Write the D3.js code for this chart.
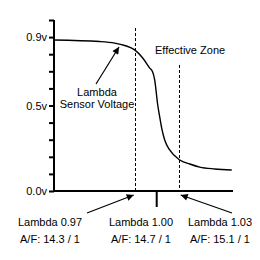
<!DOCTYPE html>
<html><head><meta charset="utf-8">
<script src="https://cdn.jsdelivr.net/npm/d3@7"></script>
<style>
html,body{margin:0;padding:0;background:#fff;}
text{font-family:Arial,"Liberation Sans",sans-serif;font-size:11px;fill:#000;}
</style></head>
<body>
<svg id="c" width="260" height="260"></svg>
<script>
// Data
const lambdaVals = [0.8595,0.9223,0.9427,0.9564,0.970,0.9809,0.9905,0.9945,0.9973,1.0014,1.0041,1.0068,1.0109,1.0177,1.0314,1.045,1.0586,1.0791,1.1023];
const voltage    = [0.883,0.874,0.865,0.851,0.825,0.778,0.719,0.696,0.649,0.503,0.433,0.368,0.298,0.240,0.181,0.158,0.140,0.129,0.123];
const yTickValues = [0,0.1,0.2,0.3,0.4,0.5,0.6,0.7,0.8,0.9,1.0];
const yLabeled = {"0.0":"0.0v","0.5":"0.5v","0.9":"0.9v"};
const markerLambdas = [0.97, 1.03];
const markerTops = [0.953, 0.737];
const centerLambda = [1.00];
const lambdaLabels = ["Lambda 0.97","Lambda 1.00","Lambda 1.03"];
const afLabels = ["A/F: 14.3 / 1","A/F: 14.7 / 1","A/F: 15.1 / 1"];

const svg = d3.select("#c");
const x = d3.scaleLinear().domain([0.86,1.104]).range([54,233]);
const y = d3.scaleLinear().domain([0,1]).range([191,20]);

// markers
const defs = svg.append("defs");
defs.append("marker").attr("id","ah").attr("viewBox","0 0 10 10").attr("refX",10).attr("refY",5)
  .attr("markerWidth",9).attr("markerHeight",7).attr("markerUnits","userSpaceOnUse").attr("orient","auto")
  .append("path").attr("d","M0,0L10,5L0,10z").attr("fill","#000");

// dashed lines
svg.selectAll(".dash").data(markerLambdas).enter().append("line")
  .attr("x1",d=>Math.round(x(d))+0.5).attr("x2",d=>Math.round(x(d))+0.5)
  .attr("y1",(d,i)=>y(markerTops[i])).attr("y2",y(0))
  .attr("stroke","#000").attr("stroke-width",1).attr("stroke-dasharray","3,2");

// curve
const line = d3.line().x((d,i)=>x(lambdaVals[i])).y(d=>y(d)).curve(d3.curveMonotoneX);
svg.append("path").datum(voltage).attr("d",line).attr("fill","none").attr("stroke","#000").attr("stroke-width",1.4);

// y axis
const yAxis = d3.axisLeft(y).tickValues(yTickValues).tickSize(5).tickPadding(2)
  .tickFormat(d=>yLabeled[d.toFixed(1)]||"");
const ga = svg.append("g").attr("transform","translate(54,0)").call(yAxis);
ga.select(".domain").attr("stroke-width",2).attr("d",`M0,${y(1)}V${y(0)+1}`);
ga.selectAll(".tick line").attr("stroke-width",2);
ga.selectAll("text").style("font-size","11px").attr("font-family",null);

// x axis
svg.append("line").attr("x1",x(0.86)-1).attr("x2",x(1.104)).attr("y1",y(0)).attr("y2",y(0))
  .attr("stroke","#000").attr("stroke-width",2);
svg.selectAll(".ct").data(centerLambda).enter().append("line")
  .attr("x1",d=>x(d)).attr("x2",d=>x(d)).attr("y1",y(0)).attr("y2",y(0)+16)
  .attr("stroke","#000").attr("stroke-width",2);

// annotations
svg.append("text").attr("x",155).attr("y",54).text("Effective Zone");
svg.append("text").attr("x",97).attr("y",96).attr("text-anchor","middle").text("Lambda");
svg.append("text").attr("x",97).attr("y",108).attr("text-anchor","middle").text("Sensor Voltage");
svg.append("line").attr("x1",96).attr("y1",84).attr("x2",119).attr("y2",47)
  .attr("stroke","#000").attr("stroke-width",1.2).attr("marker-end","url(#ah)");

const cx = [50,141,220];
svg.selectAll(".ll").data(lambdaLabels).enter().append("text")
  .attr("x",(d,i)=>cx[i]).attr("y",226).attr("text-anchor","middle").text(d=>d);
svg.selectAll(".af").data(afLabels).enter().append("text")
  .attr("x",(d,i)=>cx[i]).attr("y",243).attr("text-anchor","middle").text(d=>d);

svg.append("line").attr("x1",87).attr("y1",213).attr("x2",x(0.97)-1).attr("y2",195)
  .attr("stroke","#000").attr("stroke-width",1.2).attr("marker-end","url(#ah)");
svg.append("line").attr("x1",232).attr("y1",213).attr("x2",x(1.03)+2).attr("y2",195)
  .attr("stroke","#000").attr("stroke-width",1.2).attr("marker-end","url(#ah)");
</script>
</body></html>
